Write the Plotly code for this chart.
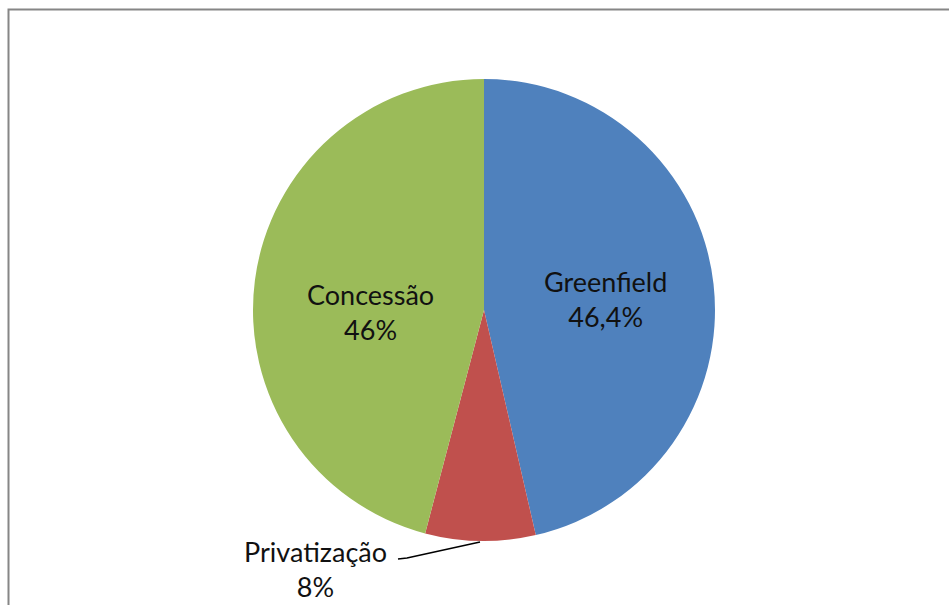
import plotly.graph_objects as go

labels = ["Greenfield", "Privatização", "Concessão"]
values = [46.4, 7.7, 45.9]
label_text = ["46,4%", "8%", "46%"]
colors = ["#4F81BD", "#C0504D", "#9BBB59"]

W, H = 949, 605
FONT = "Lato"
FS = 27

fig = go.Figure(go.Pie(
    labels=labels,
    values=values,
    textinfo="none",
    sort=False,
    direction="clockwise",
    rotation=0,
    marker=dict(colors=colors, line=dict(width=0)),
    showlegend=False,
    hoverinfo="label+percent",
    domain=dict(x=[253 / W, 715 / W], y=[1 - 541 / H, 1 - 79 / H]),
))

# data labels (label + value), positioned like the original
label_pos = [(605, 299), (315, 569), (370, 312)]
for name, val, (px, py) in zip(labels, label_text, label_pos):
    fig.add_annotation(
        x=px / W, y=1 - py / H, xref="paper", yref="paper",
        xanchor="center", yanchor="middle",
        text=f"{name}<br>{val}", showarrow=False,
        font=dict(family=FONT, size=FS, color="#111111"),
        align="center",
    )
# leader line
fig.add_shape(type="path", xref="paper", yref="paper",
              path=f"M {480/W} {1-542/H} L {407/W} {1-558/H} L {398/W} {1-559/H}",
              line=dict(color="#000000", width=1.5))
# chart border
fig.add_shape(type="rect", xref="paper", yref="paper",
              x0=8.5 / W, y0=-0.05, x1=1.05, y1=1 - 9.5 / H,
              line=dict(color="#868686", width=2))

fig.update_layout(
    width=W, height=H,
    margin=dict(l=0, r=0, t=0, b=0),
    paper_bgcolor="white", plot_bgcolor="white",
)
fig.write_html("out.html")
